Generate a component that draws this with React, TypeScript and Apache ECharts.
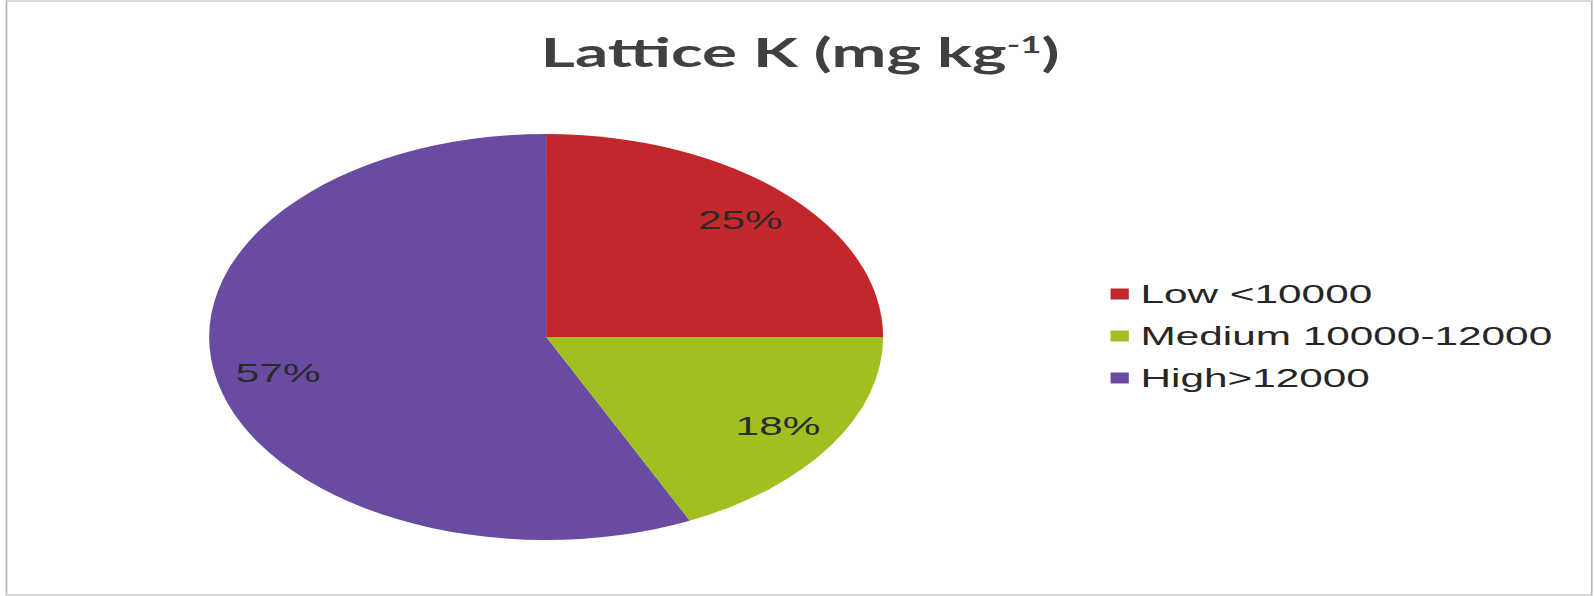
import React, { useEffect, useRef } from "react";
import * as echarts from "echarts";

const categories = ["Low <10000", "Medium 10000-12000", "High>12000"];
const values = [25, 18, 57];
const colors = ["#C2282B", "#A1BF1F", "#6A4BA2"];

const STRETCH = 1.66;
const BASE_W = 1595 / STRETCH;
const H = 596;

export default function App() {
  const ref = useRef<HTMLDivElement>(null);
  useEffect(() => {
    if (!ref.current) return;
    const chart = echarts.init(ref.current, undefined, { renderer: "svg" });
    const R = 203;
    const center = [329, 337];
    const data = categories.map((name, i) => ({
      name,
      value: values[i],
      itemStyle: { color: colors[i] },
    }));
    chart.setOption({
      animation: false,
      backgroundColor: "#ffffff",
      title: {
        text: "{a|Lattice K (mg kg}{s|-1}{a|)}",
        left: 477,
        textAlign: "center",
        top: 21,
        textStyle: {
          rich: {
            a: {
              fontFamily: "Lato",
              fontWeight: "bold",
              fontSize: 39.5,
              color: "#404040",
              lineHeight: 46,
              verticalAlign: "bottom",
            },
            s: {
              fontFamily: "Lato",
              fontWeight: "bold",
              fontSize: 22,
              color: "#404040",
              lineHeight: 22,
              verticalAlign: "top",
              padding: [7, 0, 0, 0],
            },
          },
        },
      },
      legend: {
        orient: "vertical",
        left: 664,
        top: 276,
        itemWidth: 11,
        itemHeight: 11,
        itemGap: 16,
        icon: "rect",
        data: categories,
        textStyle: {
          fontFamily: "Liberation Sans",
          fontSize: 25.5,
          lineHeight: 25,
          color: "#262626",
          padding: [0, 0, 0, 2],
        },
      },
      graphic: [
        {
          type: "rect",
          shape: { x: 3.9, y: 1, width: 955, height: 594 },
          style: { fill: "none", stroke: "#b4b4b4", lineWidth: 1 },
          silent: true,
        },
      ],
      series: [
        {
          type: "pie",
          center,
          radius: R,
          startAngle: 90,
          clockwise: true,
          data,
          label: { show: false },
          labelLine: { show: false },
          itemStyle: { borderWidth: 0 },
          emphasis: { disabled: true },
        },
        {
          type: "pie",
          center,
          radius: [R * 0.6, R],
          startAngle: 90,
          clockwise: true,
          silent: true,
          data: categories.map((name, i) => ({
            name,
            value: values[i],
            itemStyle: { color: "rgba(0,0,0,0)" },
          })),
          itemStyle: { borderWidth: 0 },
          label: {
            show: true,
            position: "inside",
            formatter: "{c}%",
            fontFamily: "Liberation Sans",
            fontSize: 25.5,
            color: "#2a2a2a",
            textBorderWidth: 0,
          },
          labelLine: { show: false },
          labelLayout: { hideOverlap: false },
          emphasis: { disabled: true },
        },
      ],
    });
    return () => chart.dispose();
  }, []);
  return (
    <div
      ref={ref}
      style={{
        position: "absolute",
        left: 0,
        top: 0,
        width: BASE_W,
        height: H,
        transform: `scaleX(${STRETCH})`,
        transformOrigin: "0 0",
      }}
    />
  );
}
